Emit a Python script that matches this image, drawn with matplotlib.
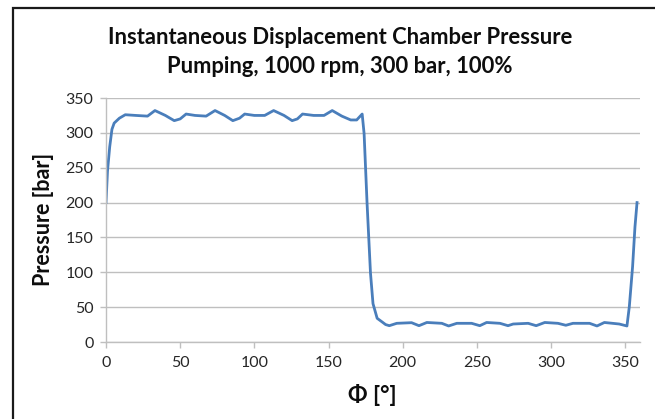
import matplotlib
matplotlib.use("Agg")
import matplotlib.pyplot as plt
from matplotlib.patches import Rectangle

# crank angle [deg] and chamber pressure [bar]
phi = [0, 1, 2.5, 4, 5.5, 9, 13, 20, 28, 33, 40, 46, 50, 54, 60, 67.5, 73.5,
       80, 85.5, 90, 93.5, 100, 107, 113, 120, 125.5, 129, 132.5, 140, 147,
       152.5, 159, 165, 169, 172.7, 174, 176, 178.3, 180, 182.8, 186, 188.5,
       191, 196, 206, 211, 216.3, 226.4, 231, 236.5, 246.5, 252, 256.6, 265.6,
       271, 274.5, 284.6, 290, 295.8, 304.7, 310, 314.8, 326, 331, 336, 346,
       351.2, 352.8, 355, 356.6, 358]
pressure = [200, 245, 280, 305, 314, 321, 326, 325, 324, 332, 325, 317.5, 320,
            327, 325, 324, 332, 325, 317.5, 321, 327, 325, 325, 332, 325, 317.5,
            320, 327, 325, 325, 332, 324, 318.5, 318.5, 327, 299, 199, 99, 55,
            34, 29, 25, 23.4, 26.8, 27.7, 23.4, 28, 26.8, 23, 26.8, 26.8, 23.4,
            28, 26.8, 23.4, 25.8, 26.8, 23.4, 28, 26.8, 24, 26.8, 26.8, 23, 28,
            25.8, 23, 50.7, 108, 165, 200]

x_ticks = [0, 50, 100, 150, 200, 250, 300, 350]
y_ticks = [0, 50, 100, 150, 200, 250, 300, 350]

title = "Instantaneous Displacement Chamber Pressure\nPumping, 1000 rpm, 300 bar, 100%"

plt.rcParams['font.family'] = ['Lato', 'DejaVu Sans']

fig = plt.figure(figsize=(6.55, 4.19), dpi=100)
ax = fig.add_axes([106 / 655, 1 - 342 / 419, (640 - 106) / 655, (342 - 98) / 419])

grid_col = '#BFBFBF'
ax.plot(phi, pressure, color='#4A7EBB', linewidth=2.0, solid_joinstyle='round')

ax.set_xlim(0, 360)
ax.set_ylim(0, 350)
ax.set_xticks(x_ticks)
ax.set_yticks(y_ticks)
ax.yaxis.grid(True, color=grid_col, linewidth=1.0)
ax.set_axisbelow(True)
for side in ['top', 'right']:
    ax.spines[side].set_visible(False)
for side in ['left', 'bottom']:
    ax.spines[side].set_color(grid_col)
    ax.spines[side].set_linewidth(1.0)
ax.tick_params(colors=grid_col, labelcolor='#262626', labelsize=11.5,
               length=4, width=1.0, direction='out')
ax.tick_params(axis='x', pad=6)
ax.tick_params(axis='y', pad=5)

fig.text(340 / 655, 1 - 52 / 419, title, ha='center', va='center',
         fontsize=15.8, fontweight='bold', color='#0D0D0D', linespacing=1.5)
fig.text(44 / 655, 1 - 219 / 419, "Pressure [bar]", ha='center', va='center',
         rotation=90, fontsize=15.5, fontweight='bold', color='#0D0D0D')
fig.text(372 / 655, 1 - 395 / 419, "Φ [°]", ha='center', va='center',
         fontsize=16.5, fontweight='bold', color='#0D0D0D')

# chart border, cut off on the right and bottom like the reference
fig.patches.append(Rectangle((13 / 655, -0.1), 1.2, 1 - 8 / 419 + 0.1,
                             transform=fig.transFigure, fill=False,
                             edgecolor='#1A1A1A', linewidth=1.6))

plt.savefig("out.png", dpi=100)
